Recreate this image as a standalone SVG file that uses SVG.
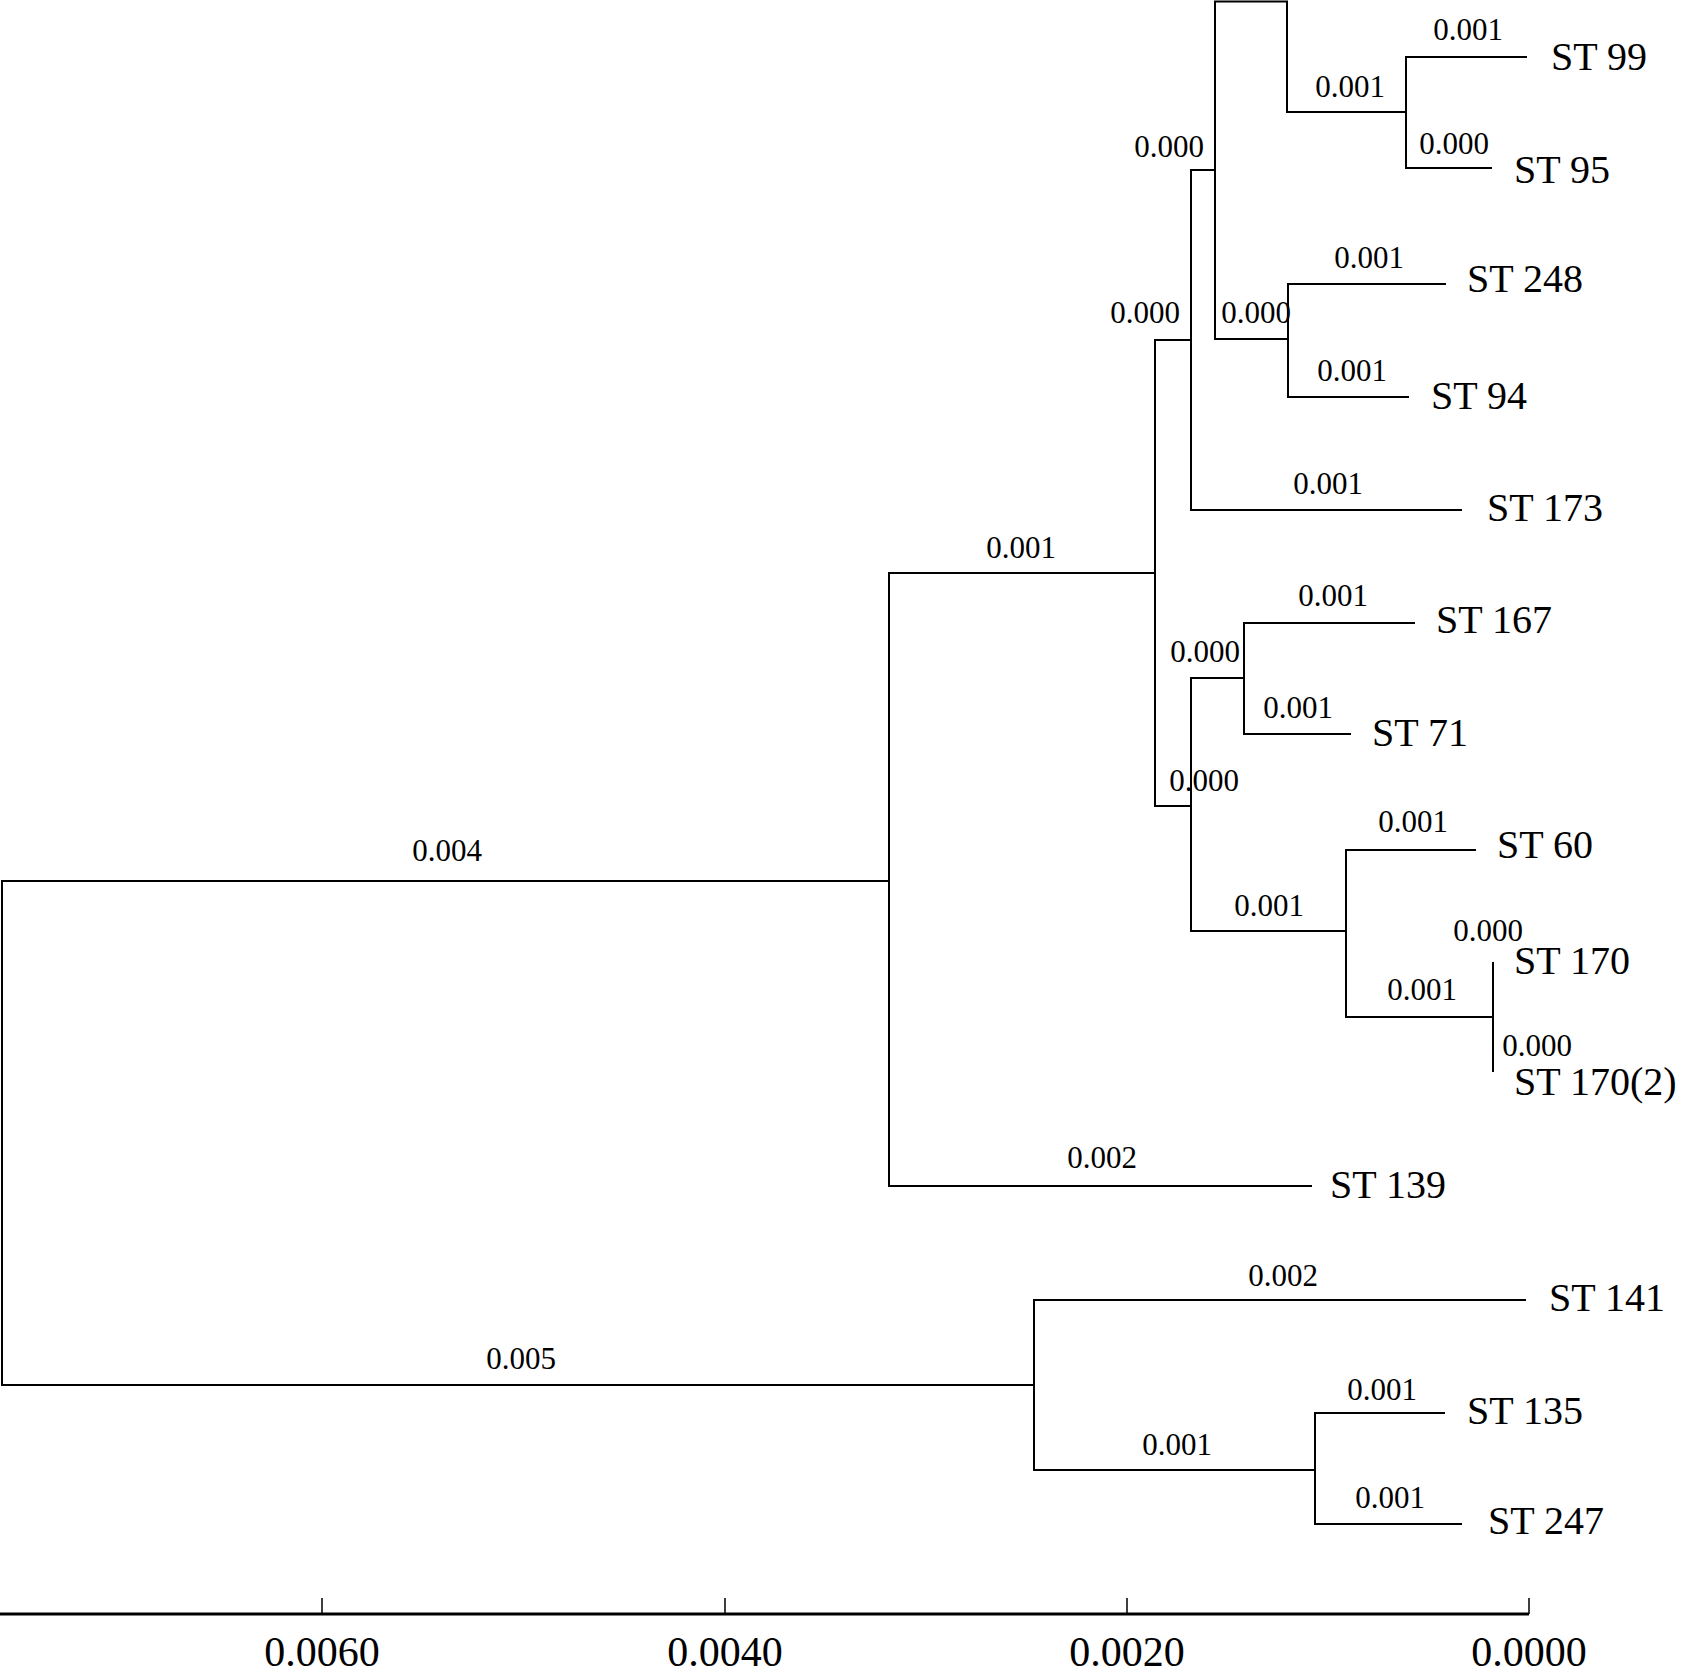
<svg xmlns="http://www.w3.org/2000/svg" width="1682" height="1679" viewBox="0 0 1682 1679">
<style>
.ln{stroke:#000;stroke-width:2;fill:none;stroke-linecap:square}
.ax{stroke:#000;stroke-width:3;fill:none}
.tk{stroke:#000;stroke-width:1.5;fill:none}
.leaf{font-family:"Liberation Serif","Times New Roman",serif;font-size:40px;fill:#000}
.bl{font-family:"Liberation Serif","Times New Roman",serif;font-size:31px;fill:#000;text-anchor:middle}
.axl{font-family:"Liberation Serif","Times New Roman",serif;font-size:42px;fill:#000;text-anchor:middle}
</style>
<rect width="1682" height="1679" fill="#fff"/>
<g id="connectors">
<path class="ln" d="M889,881 H2 V1385 H1034"/>
<path class="ln" d="M1155,573 H889 V1186 H1311"/>
<path class="ln" d="M1191,340 H1155 V806 H1191"/>
<path class="ln" d="M1215,170 H1191 V510 H1461"/>
<path class="ln" d="M1287,112 V1.5 H1215 V339 H1288"/>
<path class="ln" d="M1287,112 H1406"/>
<path class="ln" d="M1526,57 H1406 V168 H1491"/>
<path class="ln" d="M1445,284 H1288 V397 H1408"/>
<path class="ln" d="M1244,678 H1191 V931 H1346"/>
<path class="ln" d="M1414,623 H1244 V734 H1350"/>
<path class="ln" d="M1475,850 H1346 V1017 H1493"/>
<path class="ln" d="M1493,963 V1071"/>
<path class="ln" d="M1525,1300 H1034 V1470 H1315"/>
<path class="ln" d="M1444,1413 H1315 V1524 H1461"/>
</g>
<g id="branch-labels">
<text class="bl" x="1468" y="40">0.001</text>
<text class="bl" x="1350" y="97">0.001</text>
<text class="bl" x="1454" y="154">0.000</text>
<text class="bl" x="1169" y="157">0.000</text>
<text class="bl" x="1369" y="268">0.001</text>
<text class="bl" x="1256" y="323">0.000</text>
<text class="bl" x="1145" y="323">0.000</text>
<text class="bl" x="1352" y="381">0.001</text>
<text class="bl" x="1328" y="494">0.001</text>
<text class="bl" x="1021" y="558">0.001</text>
<text class="bl" x="1333" y="606">0.001</text>
<text class="bl" x="1205" y="662">0.000</text>
<text class="bl" x="1298" y="718">0.001</text>
<text class="bl" x="1204" y="791">0.000</text>
<text class="bl" x="1413" y="832">0.001</text>
<text class="bl" x="1269" y="916">0.001</text>
<text class="bl" x="1488" y="941">0.000</text>
<text class="bl" x="1422" y="1000">0.001</text>
<text class="bl" x="1537" y="1056">0.000</text>
<text class="bl" x="1102" y="1168">0.002</text>
<text class="bl" x="447" y="861">0.004</text>
<text class="bl" x="521" y="1369">0.005</text>
<text class="bl" x="1283" y="1286">0.002</text>
<text class="bl" x="1382" y="1400">0.001</text>
<text class="bl" x="1177" y="1455">0.001</text>
<text class="bl" x="1390" y="1508">0.001</text>
</g>
<g id="leaf-ST99"><text class="leaf" x="1551" y="70">ST 99</text></g>
<g id="leaf-ST95"><text class="leaf" x="1514" y="183">ST 95</text></g>
<g id="leaf-ST248"><text class="leaf" x="1467" y="292">ST 248</text></g>
<g id="leaf-ST94"><text class="leaf" x="1431" y="409">ST 94</text></g>
<g id="leaf-ST173"><text class="leaf" x="1487" y="521">ST 173</text></g>
<g id="leaf-ST167"><text class="leaf" x="1436" y="633">ST 167</text></g>
<g id="leaf-ST71"><text class="leaf" x="1372" y="746">ST 71</text></g>
<g id="leaf-ST60"><text class="leaf" x="1497" y="858">ST 60</text></g>
<g id="leaf-ST170"><text class="leaf" x="1514" y="974">ST 170</text></g>
<g id="leaf-ST170-2"><text class="leaf" x="1514" y="1095">ST 170(2)</text></g>
<g id="leaf-ST139"><text class="leaf" x="1330" y="1198">ST 139</text></g>
<g id="leaf-ST141"><text class="leaf" x="1549" y="1311">ST 141</text></g>
<g id="leaf-ST135"><text class="leaf" x="1467" y="1424">ST 135</text></g>
<g id="leaf-ST247"><text class="leaf" x="1488" y="1534">ST 247</text></g>
<g id="scale-axis">
<path class="ax" d="M0,1614 H1529"/>
<path class="tk" d="M322,1598 V1614 M725,1598 V1614 M1127,1598 V1614 M1529,1598 V1614"/>
<text class="axl" x="322" y="1666">0.0060</text>
<text class="axl" x="725" y="1666">0.0040</text>
<text class="axl" x="1127" y="1666">0.0020</text>
<text class="axl" x="1529" y="1666">0.0000</text>
</g>
</svg>
